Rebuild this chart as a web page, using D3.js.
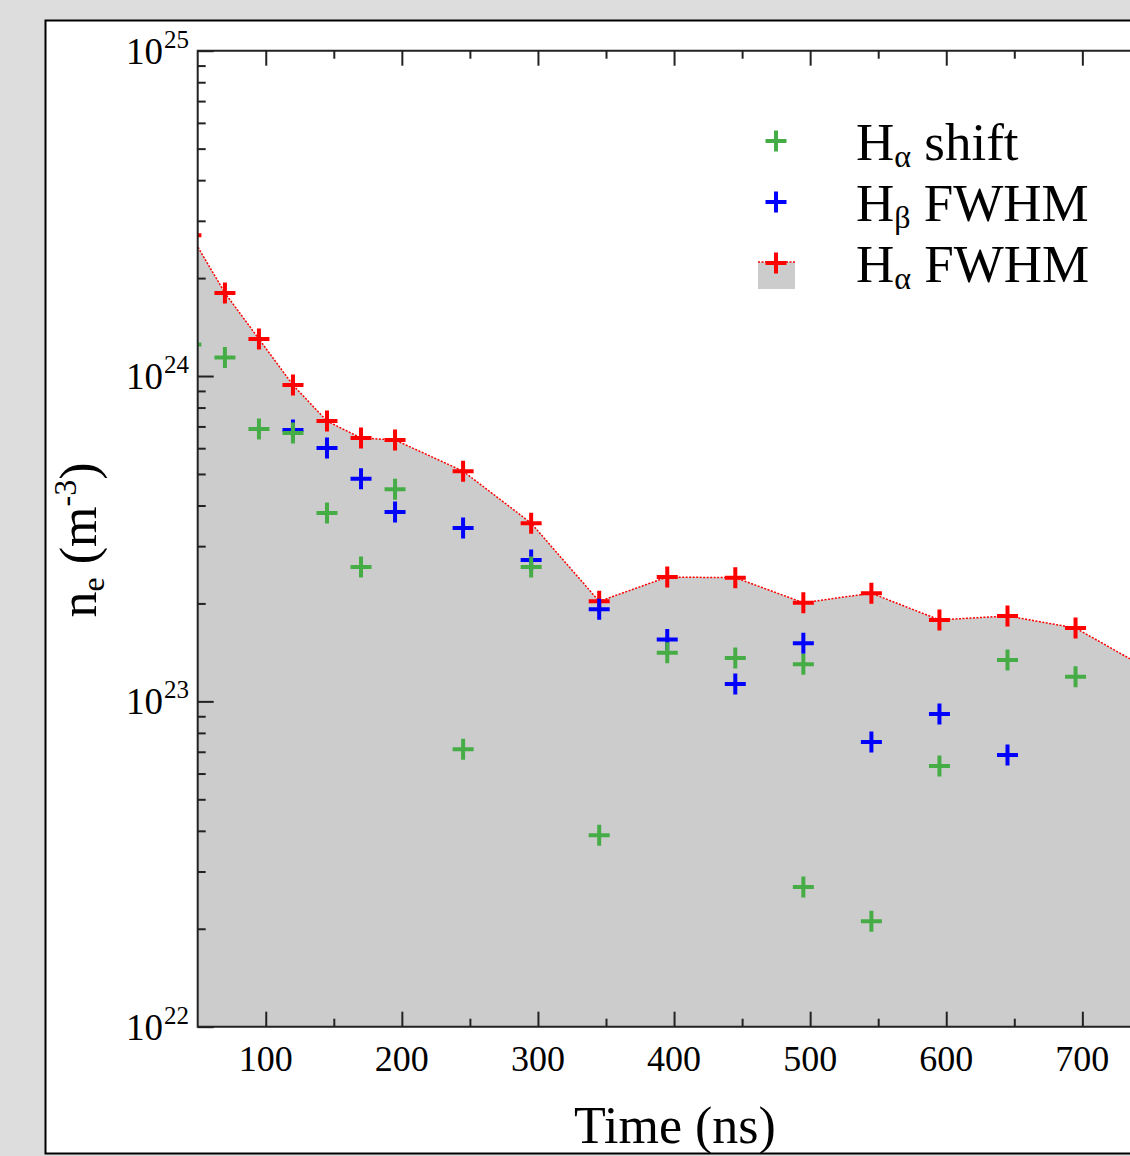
<!DOCTYPE html>
<html>
<head>
<meta charset="utf-8">
<script src="https://cdn.jsdelivr.net/npm/d3@7"></script>
<style>
  html, body { margin: 0; padding: 0; background: #dddddd; }
  svg { display: block; }
  text { font-family: "Liberation Serif", "Times New Roman", serif; fill: #000; }
</style>
</head>
<body>
<svg id="chart" width="1130" height="1156"></svg>
<script>
// ---- data ----
const xMajorTicks = [100, 200, 300, 400, 500, 600, 700];
const xMinorTicks = [150, 250, 350, 450, 550, 650, 750];
const yDecadeTicks = [1e22, 1e23, 1e24, 1e25];
const yDecadeExponents = ["22", "23", "24", "25"];

// H-alpha FWHM (red, with filled area)
const haFwhmTime = [45, 70, 95, 120, 145, 170, 195, 245, 295, 345, 395, 445, 495, 545, 595, 645, 695, 745];
const haFwhmNe   = [2.71e24, 1.80e24, 1.30e24, 9.38e23, 7.27e23, 6.45e23, 6.36e23, 5.10e23, 3.53e23,
                    2.03e23, 2.41e23, 2.40e23, 2.01e23, 2.15e23, 1.78e23, 1.83e23, 1.68e23, 1.28e23];

// H-beta FWHM (blue)
const hbFwhmTime = [120, 145, 170, 195, 245, 295, 345, 395, 445, 495, 545, 595, 645];
const hbFwhmNe   = [6.82e23, 6.01e23, 4.83e23, 3.82e23, 3.41e23, 2.72e23, 1.92e23, 1.55e23,
                    1.13e23, 1.51e23, 7.50e22, 9.14e22, 6.84e22];

// H-alpha shift (green)
const haShiftTime = [45, 70, 95, 120, 145, 170, 195, 245, 295, 345, 395, 445, 495, 495, 545, 595, 645, 695];
const haShiftNe   = [1.25e24, 1.14e24, 6.87e23, 6.68e23, 3.79e23, 2.59e23, 4.49e23, 7.13e22, 2.59e23,
                     3.88e22, 1.41e23, 1.36e23, 1.30e23, 2.69e22, 2.11e22, 6.33e22, 1.34e23, 1.19e23];

const legendLabels = [
  {main: "H", sub: "α", rest: " shift"},
  {main: "H", sub: "β", rest: " FWHM"},
  {main: "H", sub: "α", rest: " FWHM"}
];

// ---- styles ----
const colGreen = "#46ad46", colBlue = "#0000ff", colRed = "#ff0000", colFill = "#cccccc";

const svg = d3.select("#chart");

// panel
svg.append("rect").attr("x", 0).attr("y", 0).attr("width", 1130).attr("height", 1156).attr("fill", "#dddddd");
svg.append("rect").attr("x", 45.5).attr("y", 20.5).attr("width", 1200).attr("height", 1133)
  .attr("fill", "#ffffff").attr("stroke", "#000").attr("stroke-width", 2);

const pLeft = 197.7, pTop = 50.7, pBottom = 1026.7;
const pxPer100 = 136.1;
const x = d3.scaleLinear().domain([50, 750]).range([pLeft, pLeft + 7 * pxPer100]);
const y = d3.scaleLog().domain([1e22, 1e25]).range([pBottom, pTop]);
const pRight = x(750);

const defs = svg.append("defs");
defs.append("clipPath").attr("id", "plotclip").append("rect")
  .attr("x", pLeft).attr("y", pTop).attr("width", pRight - pLeft).attr("height", pBottom - pTop);

const plot = svg.append("g").attr("clip-path", "url(#plotclip)");

const redPts = haFwhmTime.map((t, i) => ({t, v: haFwhmNe[i]}));
const bluePts = hbFwhmTime.map((t, i) => ({t, v: hbFwhmNe[i]}));
const greenPts = haShiftTime.map((t, i) => ({t, v: haShiftNe[i]}));

// area
plot.append("path").datum(redPts)
  .attr("d", d3.area().x(d => x(d.t)).y0(y(1e22)).y1(d => y(d.v)))
  .attr("fill", colFill);
// dotted line
plot.append("path").datum(redPts)
  .attr("d", d3.line().x(d => x(d.t)).y(d => y(d.v)))
  .attr("fill", "none").attr("stroke", colRed).attr("stroke-width", 1.5)
  .attr("stroke-dasharray", "2,1.5");

const crossPath = (s) => `M${-s},0H${s}M0,${-s}V${s}`;
function drawCrosses(pts, color) {
  plot.append("g").selectAll("path").data(pts).join("path")
    .attr("transform", d => `translate(${x(d.t)},${y(d.v)})`)
    .attr("d", crossPath(10.5))
    .attr("stroke", color).attr("stroke-width", 4).attr("fill", "none");
}
drawCrosses(redPts, colRed);
drawCrosses(bluePts, colBlue);
drawCrosses(greenPts, colGreen);

// ---- axes ----
const axisColor = "#222";
function styleAxis(g) {
  g.select(".domain").remove();
  g.selectAll("line").attr("stroke", axisColor).attr("stroke-width", 2);
  g.selectAll("text").remove();
}
// bottom
svg.append("g").attr("transform", `translate(0,${pBottom})`)
  .call(d3.axisBottom(x).tickValues(xMajorTicks).tickSize(-15).tickSizeOuter(0)).call(styleAxis);
svg.append("g").attr("transform", `translate(0,${pBottom})`)
  .call(d3.axisBottom(x).tickValues(xMinorTicks).tickSize(-8).tickSizeOuter(0)).call(styleAxis);
// top
svg.append("g").attr("transform", `translate(0,${pTop})`)
  .call(d3.axisTop(x).tickValues(xMajorTicks).tickSize(-15).tickSizeOuter(0)).call(styleAxis);
svg.append("g").attr("transform", `translate(0,${pTop})`)
  .call(d3.axisTop(x).tickValues(xMinorTicks).tickSize(-8).tickSizeOuter(0)).call(styleAxis);
// left
const yMinor = [];
[1e22, 1e23, 1e24].forEach(d => { for (let k = 2; k <= 9; k++) yMinor.push(d * k); });
svg.append("g").attr("transform", `translate(${pLeft},0)`)
  .call(d3.axisLeft(y).tickValues(yDecadeTicks).tickSize(-16).tickSizeOuter(0)).call(styleAxis);
svg.append("g").attr("transform", `translate(${pLeft},0)`)
  .call(d3.axisLeft(y).tickValues(yMinor).tickSize(-8).tickSizeOuter(0)).call(styleAxis);

// frame lines (left, bottom, top)
svg.append("path")
  .attr("d", `M${pRight + 50},${pTop}H${pLeft}V${pBottom}H${pRight + 50}`)
  .attr("fill", "none").attr("stroke", axisColor).attr("stroke-width", 2);

// x tick labels
svg.append("g").selectAll("text").data(xMajorTicks).join("text")
  .attr("x", d => x(d)).attr("y", pBottom + 44)
  .attr("text-anchor", "middle").attr("font-size", 36).text(d => d);

// y tick labels
const yl = svg.append("g").selectAll("g").data(yDecadeTicks).join("g")
  .attr("transform", d => `translate(0,${y(d)})`);
yl.append("text").attr("x", 163).attr("y", 13).attr("text-anchor", "end")
  .attr("font-size", 37).text("10");
yl.append("text").attr("x", 164).attr("y", -3).attr("text-anchor", "start")
  .attr("font-size", 25).text((d, i) => yDecadeExponents[i]);

// axis titles
svg.append("text").attr("x", 675).attr("y", 1143).attr("text-anchor", "middle")
  .attr("font-size", 52).text("Time (ns)");

const yt = svg.append("text").attr("transform", "translate(96,540) rotate(-90)")
  .attr("text-anchor", "middle").attr("font-size", 52);
yt.append("tspan").text("n");
yt.append("tspan").attr("font-size", 32).attr("dy", 8).text("e");
yt.append("tspan").attr("dy", -8).text(" (m");
yt.append("tspan").attr("font-size", 32).attr("dy", -20).text("-3");
yt.append("tspan").attr("dy", 20).text(")");

// legend
const legendY = [141, 202, 263];
const lg = svg.append("g");
// filled swatch for H-alpha FWHM
lg.append("rect").attr("x", 758).attr("y", 262).attr("width", 37).attr("height", 27).attr("fill", colFill);
lg.append("line").attr("x1", 758).attr("x2", 795).attr("y1", 262).attr("y2", 262)
  .attr("stroke", colRed).attr("stroke-width", 1.5).attr("stroke-dasharray", "2,1.5");
const legendColors = [colGreen, colBlue, colRed];
legendY.forEach((cy, i) => {
  lg.append("path").attr("transform", `translate(776,${cy})`).attr("d", crossPath(10.5))
    .attr("stroke", legendColors[i]).attr("stroke-width", 4).attr("fill", "none");
  const t = lg.append("text").attr("x", 856).attr("y", cy + 19).attr("font-size", 53);
  t.append("tspan").text(legendLabels[i].main);
  t.append("tspan").attr("font-size", 32).attr("dy", 7).text(legendLabels[i].sub);
  t.append("tspan").attr("dy", -7).text(legendLabels[i].rest);
});
</script>
</body>
</html>
